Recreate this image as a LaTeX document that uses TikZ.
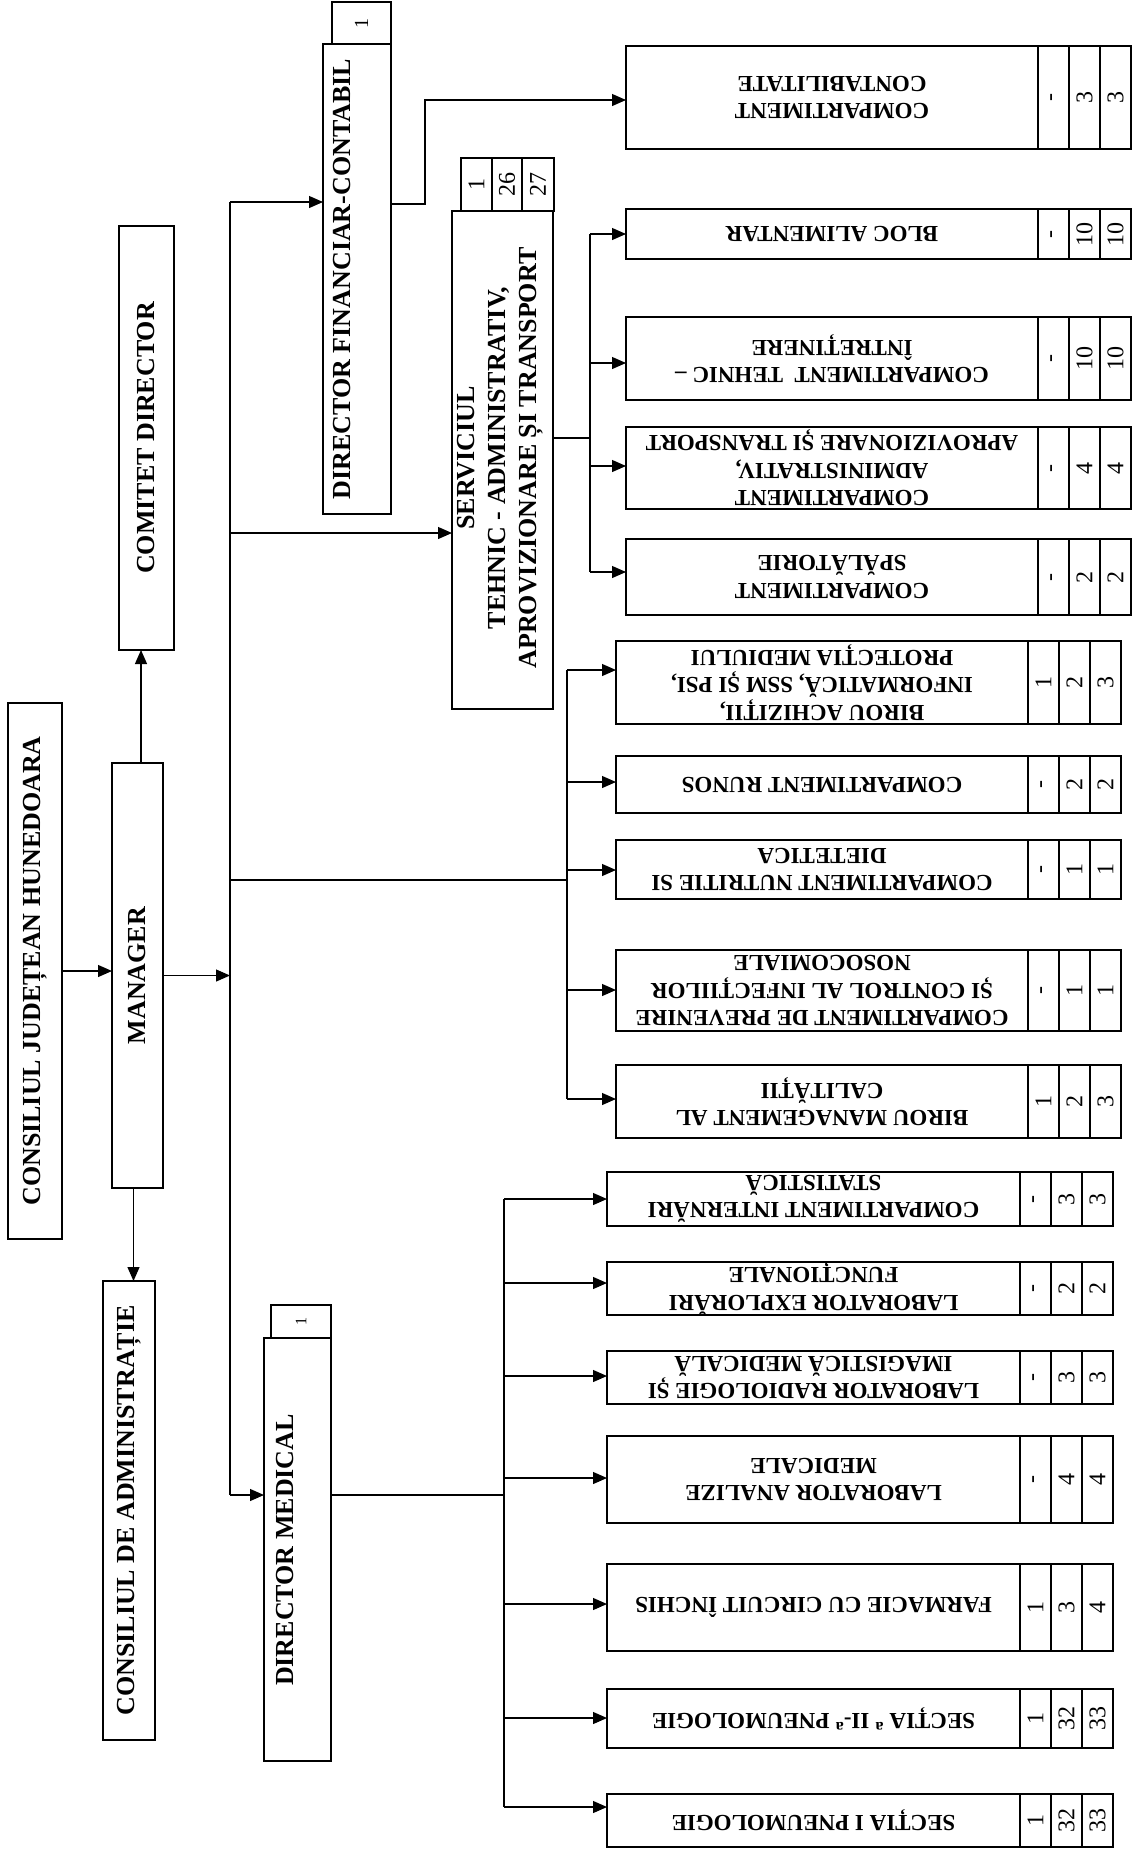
\documentclass[tikz,border=0pt]{standalone}
\usepackage{fontspec}
\setmainfont{Liberation Serif}
\usetikzlibrary{arrows.meta}
\newcommand{\fL}{\fontsize{26}{31}\selectfont\bfseries}
\newcommand{\fR}{\fontsize{23}{27.5}\selectfont\bfseries}
\newcommand{\fN}{\fontsize{24}{28}\selectfont}
\tikzset{
 box/.style={draw, line width=1.5pt, inner sep=0pt, outer sep=0pt},
 cellbox/.style={draw, line width=1.2pt, inner sep=0pt, outer sep=0pt, rotate=90, font=\fN},
 ltxt/.style={rotate=90, font=\fL, align=center, inner sep=0pt},
 rtxt/.style={rotate=180, font=\fR, align=center, inner sep=0pt},
 conn/.style={line width=1.2pt},
 arr/.style={line width=1.2pt, -{Triangle[length=14pt,width=12pt]}},
}
\newcommand{\mkbox}[5]{%
 \pgfmathsetmacro{\qW}{#4-(#2)}\pgfmathsetmacro{\qH}{#5-(#3)}%
 \pgfmathsetmacro{\qX}{(#2+#4)/2}\pgfmathsetmacro{\qY}{(#3+#5)/2}%
 \node[box, minimum width=\qW pt, minimum height=\qH pt] (#1) at (\qX,\qY) {};}
\newcommand{\mkcell}[6]{%
 \pgfmathsetmacro{\qW}{#4-(#2)}\pgfmathsetmacro{\qH}{#5-(#3)}%
 \pgfmathsetmacro{\qX}{(#2+#4)/2}\pgfmathsetmacro{\qY}{(#3+#5)/2}%
 \node[cellbox, minimum width=\qH pt, minimum height=\qW pt] (#1) at (\qX,\qY) {#6};}
\newcommand{\rb}[7]{%
 \pgfmathsetmacro{\qA}{\gR-93}\pgfmathsetmacro{\qB}{\gR-62}\pgfmathsetmacro{\qC}{\gR-31}%
 \mkbox{#1}{\gL}{#2}{\qA}{#3}%
 \node[rtxt] (#1-t) at (#1.center) {#4};%
 \mkcell{#1-a}{\qA}{#2}{\qB}{#3}{#5}%
 \mkcell{#1-b}{\qB}{#2}{\qC}{#3}{#6}%
 \mkcell{#1-c}{\qC}{#2}{\gR}{#3}{#7}}
\begin{document}
\begin{tikzpicture}[x=1pt,y=-1pt]
\fill[white] (0,0) rectangle (1133,1850);
\useasboundingbox (0,0) rectangle (1133,1850);

% left column
\mkbox{cjh}{8}{703}{62}{1239}
\node[ltxt] (cjh-t) at (cjh.center) {CONSILIUL JUDEȚEAN HUNEDOARA};
\mkbox{mgr}{112}{763}{163}{1188}
\node[ltxt] (mgr-t) at (mgr.center) {MANAGER};
\mkbox{cd}{119}{226}{174}{650}
\node[ltxt] (cd-t) at (cd.center) {COMITET DIRECTOR};
\mkbox{cda}{103}{1281}{155}{1740}
\node[ltxt] (cda-t) at (cda.center) {CONSILIUL DE ADMINISTRAȚIE};

\mkbox{dfc}{323}{44}{391}{514}
\mkcell{dfc-h}{332}{2}{391}{44}{\fontsize{20}{24}\selectfont 1}
\node[ltxt] (dfc-t) at (342,279) {DIRECTOR FINANCIAR-CONTABIL};

\mkbox{srv}{452}{211}{553}{709}
\mkcell{srv-a}{461}{158}{492}{211}{1}
\mkcell{srv-b}{492}{158}{522}{211}{26}
\mkcell{srv-c}{522}{158}{554}{211}{27}
\node[ltxt] (srv-t) at (500,458) {SERVICIUL\\TEHNIC - ADMINISTRATIV,\\APROVIZIONARE ȘI TRANSPORT};

\mkbox{dm}{264}{1338}{331}{1761}
\mkcell{dm-h}{271}{1305}{331}{1338}{\fontsize{16}{20}\selectfont 1}
\node[ltxt] (dm-t) at (285,1550) {DIRECTOR MEDICAL};

% right column, group 1
\def\gL{626}\def\gR{1131}
\rb{contab}{46}{149}{COMPARTIMENT\\CONTABILITATE}{-}{3}{3}
\rb{bloc}{209}{259}{BLOC ALIMENTAR}{-}{10}{10}
\rb{tehn}{317}{400}{COMPARTIMENT\ \ TEHNIC –\\ÎNTREȚINERE}{-}{10}{10}
\rb{admn}{427}{509}{COMPARTIMENT\\ADMINISTRATIV,\\APROVIZIONARE ȘI TRANSPORT}{-}{4}{4}
\rb{spal}{539}{615}{COMPARTIMENT\\SPĂLĂTORIE}{-}{2}{2}

% group 2
\def\gL{616}\def\gR{1121}
\rb{achz}{641}{724}{BIROU ACHIZIȚII,\\INFORMATICĂ, SSM ȘI PSI,\\PROTECȚIA MEDIULUI}{1}{2}{3}
\rb{runs}{756}{813}{COMPARTIMENT RUNOS}{-}{2}{2}
\rb{nutr}{840}{899}{COMPARTIMENT NUTRITIE SI\\DIETETICA}{-}{1}{1}
\rb{prev}{950}{1031}{COMPARTIMENT DE PREVENIRE\\ȘI CONTROL AL INFECȚIILOR\\NOSOCOMIALE}{-}{1}{1}
\rb{calt}{1065}{1138}{BIROU MANAGEMENT AL\\CALITĂȚII}{1}{2}{3}

% group 3
\def\gL{607}\def\gR{1113}
\rb{intr}{1172}{1226}{COMPARTIMENT INTERNĂRI\\STATISTICĂ}{-}{3}{3}
\rb{expl}{1262}{1315}{LABORATOR EXPLORĂRI\\FUNCȚIONALE}{-}{2}{2}
\rb{radi}{1351}{1404}{LABORATOR RADIOLOGIE ȘI\\IMAGISTICĂ MEDICALĂ}{-}{3}{3}
\rb{anlz}{1436}{1523}{LABORATOR ANALIZE\\MEDICALE}{-}{4}{4}
\rb{farm}{1564}{1651}{FARMACIE CU CIRCUIT ÎNCHIS}{1}{3}{4}
\rb{sec2}{1689}{1748}{SECȚIA \textsuperscript{a} II-\textsuperscript{a} PNEUMOLOGIE}{1}{32}{33}
\rb{sec1}{1794}{1847}{SECȚIA I PNEUMOLOGIE}{1}{32}{33}

% connectors, left
\draw[arr] (cjh.east) -- (cjh.east -| mgr.west);
\draw[arr] ([xshift=3.5pt]mgr.north) -- ([xshift=3.5pt]mgr.north |- cd.south);
\draw[arr] ([xshift=-4pt]mgr.south) -- ([xshift=-4pt]mgr.south |- cda.north);
\coordinate (b1) at (230,202);
\coordinate (b2) at (230,533);
\coordinate (b3) at (230,880);
\coordinate (b4) at (230,1495);
\draw[arr] (mgr.east) -- (mgr.east -| b1);
\draw[conn] (b1) -- (b4);
\draw[arr] (b1) -- (b1 -| dfc.west);
\draw[arr] (b2) -- (b2 -| srv.west);
\draw[arr] (b4) -- (b4 -| dm.west);

% financial
\coordinate (f1) at (425,204);
\coordinate (f2) at (425,100);
\draw[arr] (f1 -| dfc.east) -- (f1) -- (f2) -- (f2 -| contab.west);

% service bus
\coordinate (s0) at (590,438);
\coordinate (s1) at (590,234);
\coordinate (s2) at (590,363);
\coordinate (s3) at (590,466);
\coordinate (s4) at (590,572);
\draw[conn] (s0 -| srv.east) -- (s0);
\draw[conn] (s1) -- (s4);
\draw[arr] (s1) -- (s1 -| bloc.west);
\draw[arr] (s2) -- (s2 -| tehn.west);
\draw[arr] (s3) -- (s3 -| admn.west);
\draw[arr] (s4) -- (s4 -| spal.west);

% middle bus
\coordinate (m0) at (567,880);
\coordinate (m1) at (567,670);
\coordinate (m2) at (567,782);
\coordinate (m3) at (567,870);
\coordinate (m4) at (567,990);
\coordinate (m5) at (567,1099);
\draw[conn] (b3) -- (m0);
\draw[conn] (m1) -- (m5);
\draw[arr] (m1) -- (m1 -| achz.west);
\draw[arr] (m2) -- (m2 -| runs.west);
\draw[arr] (m3) -- (m3 -| nutr.west);
\draw[arr] (m4) -- (m4 -| prev.west);
\draw[arr] (m5) -- (m5 -| calt.west);

% medical bus
\coordinate (d0) at (504,1495);
\coordinate (d1) at (504,1199);
\coordinate (d2) at (504,1283);
\coordinate (d3) at (504,1376);
\coordinate (d4) at (504,1478);
\coordinate (d5) at (504,1604);
\coordinate (d6) at (504,1718);
\coordinate (d7) at (504,1807);
\draw[conn] (d0 -| dm.east) -- (d0);
\draw[conn] (d1) -- (d7);
\draw[arr] (d1) -- (d1 -| intr.west);
\draw[arr] (d2) -- (d2 -| expl.west);
\draw[arr] (d3) -- (d3 -| radi.west);
\draw[arr] (d4) -- (d4 -| anlz.west);
\draw[arr] (d5) -- (d5 -| farm.west);
\draw[arr] (d6) -- (d6 -| sec2.west);
\draw[arr] (d7) -- (d7 -| sec1.west);
\end{tikzpicture}
\end{document}
